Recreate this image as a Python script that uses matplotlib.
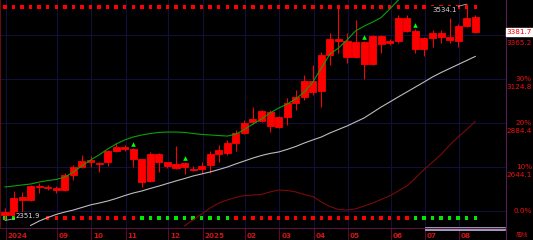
import numpy as np
import matplotlib
matplotlib.use('Agg')
import matplotlib.pyplot as plt
import matplotlib.transforms as mtransforms
from matplotlib.patches import Rectangle
from matplotlib.lines import Line2D

# ---------------- data (weekly candles) ----------------
opens = [2398, 2382, 2481, 2464, 2540, 2531, 2531, 2518, 2600, 2642,
         2670, 2666, 2670, 2731, 2753, 2741, 2686, 2568, 2713, 2670,
         2637, 2668, 2633, 2632, 2655, 2713, 2722, 2774, 2831, 2890,
         2895, 2946, 2864, 2919, 2992, 3025, 3116, 3061, 3256, 3342,
         3334, 3247, 3329, 3207, 3360, 3320, 3334, 3456, 3387, 3287,
         3350, 3374, 3353, 3334, 3416, 3465]
highs = [2420, 2513, 2510, 2546, 2557, 2546, 2540, 2611, 2655, 2710,
         2704, 2673, 2737, 2774, 2764, 2746, 2690, 2728, 2718, 2674,
         2760, 2674, 2647, 2673, 2729, 2764, 2792, 2846, 2901, 2972,
         2955, 2953, 2923, 3021, 3065, 3147, 3201, 3274, 3375, 3520,
         3376, 3447, 3335, 3365, 3365, 3343, 3475, 3475, 3396, 3354,
         3392, 3392, 3456, 3425, 3534.1, 3472]
lows = [2351.9, 2376, 2382, 2458, 2502, 2518, 2502, 2513, 2573, 2639,
        2644, 2618, 2651, 2726, 2731, 2646, 2536, 2562, 2615, 2636,
        2633, 2606, 2620, 2610, 2610, 2673, 2710, 2733, 2824, 2879,
        2890, 2837, 2857, 2874, 2956, 3010, 3037, 2970, 3201, 3265,
        3212, 3240, 3123, 3201, 3265, 3311, 3320, 3382, 3265, 3250,
        3301, 3323, 3320, 3301, 3409, 3376]
closes = [2382, 2476, 2464, 2540, 2533, 2535, 2518, 2600, 2642, 2677,
          2680, 2661, 2731, 2753, 2741, 2686, 2564, 2713, 2670, 2651,
          2659, 2642, 2628, 2650, 2713, 2737, 2774, 2828, 2883, 2906,
          2950, 2868, 2915, 2992, 3025, 3116, 3055, 3256, 3342, 3335,
          3247, 3329, 3207, 3360, 3316, 3334, 3456, 3387, 3287, 3347,
          3374, 3356, 3338, 3416, 3460, 3381.7]

green_line = [2535, 2540, 2546, 2551, 2562, 2570, 2576, 2589, 2617, 2650,
              2682, 2710, 2742, 2770, 2792, 2808, 2819, 2827, 2833, 2835,
              2835, 2833, 2827, 2822, 2819, 2816, 2813, 2824, 2849, 2879,
              2906, 2939, 2966, 2988, 3016, 3054, 3108, 3185, 3261, 3294,
              3338, 3387, 3414, 3436, 3461, 3507, 3556, 3595,
              None, None, None, None, None, None, None, None]
gray_line = [None, None, None, 2325, 2349, 2368, 2385, 2398, 2409, 2423,
             2437, 2447, 2458, 2472, 2488, 2502, 2513, 2527, 2540, 2554,
             2568, 2581, 2595, 2606, 2617, 2630, 2644, 2661, 2677, 2693,
             2707, 2718, 2726, 2740, 2756, 2775, 2792, 2808, 2830, 2849,
             2868, 2890, 2912, 2942, 2972, 2999, 3027, 3054, 3081, 3108,
             3136, 3160, 3182, 3204, 3226, 3248]
red_line = [None] * 21 + [
    2322, 2355, 2387, 2420, 2447, 2464, 2478, 2488, 2491, 2494,
    2508, 2518, 2516, 2508, 2494, 2483, 2453, 2428, 2412, 2409,
    2415, 2431, 2447, 2467, 2486, 2513, 2540, 2584, 2630, 2671,
    2712, 2764, 2808, 2849, 2893]

top_signals = "R" * 56
bottom_signals = "GGGGG" + "R" * 11 + "G" * 11 + "R" * 21 + "G" * 8

arrow_idx = [15, 21, 42, 48]

month_labels = ['2024', '09', '10', '11', '12', '2025', '02', '03', '04',
                '05', '06', '07', '08']
month_start_idx = [0, 6, 10, 14, 19, 23, 28, 32, 36, 40, 45, 49, 53]

grid_prices = [3365.2, 3124.8, 2884.4, 2644.1, 2403.7]
price_labels = ['3365.2', '3124.8', '2884.4', '2644.1', '']
pct_labels = ['', '30%', '20%', '10%', '0.0%']

last_close = 3381.7
y_range = (2310.8, 3556.4)

# ---------------- figure ----------------
W, H, DPI = 533, 240, 100
fig = plt.figure(figsize=(W / DPI, H / DPI), dpi=DPI, facecolor='black')

plot_w = 505.5
ax = fig.add_axes([0, 12 / H, plot_w / W, 228 / H], facecolor='black')
step = 8.55
x0 = -5 / step
x1 = (plot_w - 5) / step
ax.set_xlim(x0, x1)
ax.set_ylim(*y_range)
for s in ax.spines.values():
    s.set_visible(False)
ax.set_xticks([])
ax.set_yticks([])

n = len(closes)
idx = np.arange(n)
o = np.array(opens, float)
c = np.array(closes, float)
h = np.array(highs, float)
l = np.array(lows, float)

grid_col = '#10103a'
for gp in grid_prices:
    ax.axhline(gp, color=grid_col, lw=0.8, zorder=0)
for mi in month_start_idx:
    ax.axvline(mi + 0.1, color=grid_col, lw=0.8, zorder=0)

# left edge line
ax.axvline(x0 + 0.05, color='#7a1212', lw=1.2, zorder=1)

red = '#ff0000'
ax.vlines(idx, l, h, color=red, lw=0.75, zorder=3)
bottoms = np.minimum(o, c)
heights = np.abs(c - o)
ax.bar(idx, heights, width=0.82, bottom=bottoms, color=red,
       edgecolor=red, linewidth=0.6, zorder=4)

def arr(v):
    return np.array([np.nan if x is None else x for x in v], float)

ax.plot(idx, arr(green_line), color='#0aa00a', lw=0.8, zorder=5)
ax.plot(idx, arr(gray_line), color='#bcbcbc', lw=0.8, zorder=5)
ax.plot(idx, arr(red_line), color='#7a0a0a', lw=0.8, zorder=5)

# signal dots
bt = mtransforms.blended_transform_factory(ax.transData, ax.transAxes)
colmap = {'R': '#ff0000', 'G': '#00e800'}
ax.scatter(idx, np.full(n, 1 - 7 / 228), s=6, marker='s',
           c=[colmap[s] for s in top_signals], transform=bt, zorder=2,
           linewidths=0)
ax.scatter(idx, np.full(n, 1 - 218 / 228), s=6, marker='s',
           c=[colmap[s] for s in bottom_signals], transform=bt, zorder=2,
           linewidths=0)

# green arrows
off = mtransforms.offset_copy(ax.transData, fig=fig, y=4, units='dots')
ax.scatter(arrow_idx, h[arrow_idx], marker='^', s=11, color='#00ff00',
           transform=off, zorder=6, linewidths=0)

# extreme labels
imax = int(np.argmax(h))
imin = int(np.argmin(l))
ax.annotate(f'{h[imax]:.1f}', xy=(imax, h[imax]), xytext=(-10, -6),
            textcoords='offset pixels', ha='right', va='center',
            color='#d8d8d8', fontsize=5,
            bbox=dict(facecolor='black', edgecolor='none', pad=0.6),
            arrowprops=dict(arrowstyle='-', color='#b0b0b0', lw=0.6,
                            shrinkA=0, shrinkB=0), zorder=7)
ax.annotate(f'{l[imin]:.1f}', xy=(imin, l[imin]), xytext=(11, 4.5),
            textcoords='offset pixels', ha='left', va='center',
            color='#d8d8d8', fontsize=5,
            bbox=dict(facecolor='black', edgecolor='none', pad=0.6),
            arrowprops=dict(arrowstyle='-', color='#b0b0b0', lw=0.6,
                            shrinkA=0, shrinkB=0), zorder=7)

# right axis labels
rt = mtransforms.blended_transform_factory(fig.transFigure, ax.transData)
rt_low = mtransforms.offset_copy(rt, fig=fig, y=-8, units='dots')
lab_col = '#f01010'
xr = 532 / W
for gp, pl, pc in zip(grid_prices, price_labels, pct_labels):
    if pc:
        fig.text(xr, gp, pc, transform=rt, ha='right', va='center',
                 color=lab_col, fontsize=5.2)
    if pl:
        fig.text(xr, gp, pl, transform=rt_low, ha='right', va='center',
                 color=lab_col, fontsize=5.2)
fig.text(xr, last_close, f'{last_close:.1f}', transform=rt, ha='right',
         va='center', color='#f00000', fontsize=5.2,
         bbox=dict(facecolor='white', edgecolor='white', pad=0.8))

# right axis line and bottom line
fig.add_artist(Line2D([plot_w / W + 0.0005] * 2, [0, 1], color='#5a1a5a',
                      lw=0.8, transform=fig.transFigure))
fig.add_artist(Line2D([0, plot_w / W], [12 / H] * 2, color='#5a1440',
                      lw=0.8, transform=fig.transFigure))

# bottom strip with month labels
ax2 = fig.add_axes([0, 0, plot_w / W, 12 / H], facecolor='black')
ax2.set_xlim(x0, x1)
ax2.set_ylim(0, 1)
ax2.set_xticks([])
ax2.set_yticks([])
for s in ax2.spines.values():
    s.set_visible(False)
for mi, ml in zip(month_start_idx, month_labels):
    xpos = max(mi + 0.1, x0 + 0.3)
    ax2.axvline(xpos, color='#5a0a30', lw=0.8)
    ax2.text(xpos + 0.2, 0.35, ml, ha='left', va='center', color='#d01414',
             fontsize=5.2, fontweight='bold')

# scroll bar
fig.add_artist(Rectangle((425.3 / W, (H - 229.8) / H), 80 / W, 3 / H,
                         facecolor='#9a9cc4', edgecolor='#dcdcf0', lw=0.4,
                         transform=fig.transFigure))

fig.text(522 / W, (H - 235) / H, '周线', ha='center', va='center',
         color='#c81414', fontsize=4.5,
         family=['Noto Sans CJK SC', 'DejaVu Sans'])

fig.savefig('out.png', dpi=DPI, facecolor='black')
